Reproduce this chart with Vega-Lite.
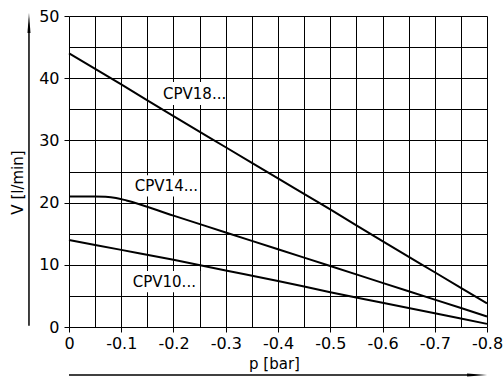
{
  "$schema": "https://vega.github.io/schema/vega-lite/v6.json",
  "width": 418,
  "height": 311,
  "autosize": "none",
  "padding": {"left": 69, "top": 16, "right": 17, "bottom": 52},
  "background": "white",
  "config": {"view": {"stroke": null}, "font": "DejaVu Sans"},
  "datasets": {
    "curves": [
      {"series": "CPV18", "p": 0, "V": 44.0},
      {"series": "CPV18", "p": -0.1, "V": 39.0},
      {"series": "CPV18", "p": -0.2, "V": 33.9},
      {"series": "CPV18", "p": -0.3, "V": 28.9},
      {"series": "CPV18", "p": -0.4, "V": 23.9},
      {"series": "CPV18", "p": -0.5, "V": 18.9},
      {"series": "CPV18", "p": -0.6, "V": 13.8},
      {"series": "CPV18", "p": -0.7, "V": 8.8},
      {"series": "CPV18", "p": -0.8, "V": 3.8},
      {"series": "CPV14", "p": 0, "V": 21.0},
      {"series": "CPV14", "p": -0.05, "V": 21.0},
      {"series": "CPV14", "p": -0.07, "V": 20.95},
      {"series": "CPV14", "p": -0.09, "V": 20.75},
      {"series": "CPV14", "p": -0.11, "V": 20.35},
      {"series": "CPV14", "p": -0.2, "V": 17.9},
      {"series": "CPV14", "p": -0.3, "V": 15.2},
      {"series": "CPV14", "p": -0.4, "V": 12.5},
      {"series": "CPV14", "p": -0.5, "V": 9.8},
      {"series": "CPV14", "p": -0.6, "V": 7.1},
      {"series": "CPV14", "p": -0.7, "V": 4.4},
      {"series": "CPV14", "p": -0.8, "V": 1.7},
      {"series": "CPV10", "p": 0, "V": 14.0},
      {"series": "CPV10", "p": -0.1, "V": 12.4},
      {"series": "CPV10", "p": -0.2, "V": 10.8},
      {"series": "CPV10", "p": -0.3, "V": 9.1},
      {"series": "CPV10", "p": -0.4, "V": 7.4},
      {"series": "CPV10", "p": -0.5, "V": 5.6},
      {"series": "CPV10", "p": -0.6, "V": 3.9},
      {"series": "CPV10", "p": -0.7, "V": 2.2},
      {"series": "CPV10", "p": -0.8, "V": 0.5}
    ],
    "labels": [
      {"label": "CPV18...", "p": -0.18, "V": 37.5, "p1": -0.172, "p2": -0.298, "V1": 35.7, "V2": 39.4},
      {"label": "CPV14...", "p": -0.126, "V": 22.6, "p1": -0.119, "p2": -0.247, "V1": 21.0, "V2": 24.4},
      {"label": "CPV10...", "p": -0.122, "V": 7.3, "p1": -0.115, "p2": -0.251, "V1": 5.6, "V2": 9.0}
    ]
  },
  "encoding": {
    "x": {
      "field": "p", "type": "quantitative",
      "scale": {"domain": [0, -0.8], "nice": false, "zero": false},
      "axis": {
        "tickCount": 16,
        "grid": true, "gridColor": "black", "gridOpacity": 1, "gridWidth": 1,
        "domain": false,
        "tickSize": 5, "tickWidth": 1,
        "tickColor": {"condition": {"test": "abs(round(datum.value*20))%2==0", "value": "black"}, "value": "transparent"},
        "labelExpr": "abs(round(datum.value*20))%2==0 ? replace(format(datum.value, '.1~f'), '\u2212', '-') : ''",
        "labelFont": "DejaVu Sans", "labelFontSize": 16, "labelColor": "black", "labelPadding": 3,
        "labelFlush": false, "labelOverlap": false, "labelBound": false,
        "title": "p  [bar]", "titleFont": "DejaVu Sans", "titleFontSize": 15, "titleFontWeight": "normal", "titleColor": "black",
        "titleX": 205, "titleY": 36, "titleBaseline": "middle", "titleAlign": "center"
      }
    },
    "y": {
      "field": "V", "type": "quantitative",
      "scale": {"domain": [0, 50], "nice": false, "zero": false},
      "axis": {
        "tickCount": 10,
        "grid": true, "gridColor": "black", "gridOpacity": 1, "gridWidth": 1,
        "domain": false,
        "tickSize": 5, "tickWidth": 1,
        "tickColor": {"condition": {"test": "round(datum.value/5)%2==0", "value": "black"}, "value": "transparent"},
        "labelExpr": "round(datum.value/5)%2==0 ? datum.label : ''",
        "labelFont": "DejaVu Sans", "labelFontSize": 16, "labelColor": "black", "labelPadding": 5,
        "labelFlush": false, "labelOverlap": false, "labelBound": false,
        "title": "V  [l/min]", "titleFont": "DejaVu Sans", "titleFontSize": 15, "titleFontWeight": "normal", "titleColor": "black",
        "titleX": -52, "titleY": 166, "titleBaseline": "middle", "titleAlign": "center", "titleAngle": 270
      }
    }
  },
  "layer": [
    {
      "data": {"name": "labels"},
      "mark": {"type": "rect", "color": "white"},
      "encoding": {
        "x": {"field": "p1"},
        "x2": {"field": "p2"},
        "y": {"field": "V1"},
        "y2": {"field": "V2"}
      }
    },
    {
      "data": {"name": "curves"},
      "mark": {"type": "line", "color": "black", "strokeWidth": 2, "interpolate": "monotone", "clip": false},
      "encoding": {
        "detail": {"field": "series"}
      }
    },
    {
      "data": {"name": "labels"},
      "mark": {"type": "text", "align": "left", "baseline": "middle", "font": "DejaVu Sans", "fontSize": 15, "color": "black"},
      "encoding": {
        "text": {"field": "label"}
      }
    },
    {
      "data": {"values": [
        {"p": 0.0766, "p2": 0.0766, "V": 0.2, "V2": 47.5},
        {"p": 0.0, "p2": -0.775, "V": -7.7, "V2": -7.7}
      ]},
      "mark": {"type": "rule", "color": "black", "strokeWidth": 1.5},
      "encoding": {
        "x2": {"field": "p2"},
        "y2": {"field": "V2"}
      }
    },
    {
      "data": {"values": [{"p": 0.0766, "V": 48.87}]},
      "mark": {"type": "point", "filled": true, "color": "black", "opacity": 1, "size": 400, "shape": "M0,-1L0.15,1L-0.15,1Z"},
      "encoding": {}
    },
    {
      "data": {"values": [{"p": -0.781, "V": -7.7}]},
      "mark": {"type": "point", "filled": true, "color": "black", "opacity": 1, "size": 400, "shape": "M1,0L-1,-0.15L-1,0.15Z"},
      "encoding": {}
    }
  ]
}
